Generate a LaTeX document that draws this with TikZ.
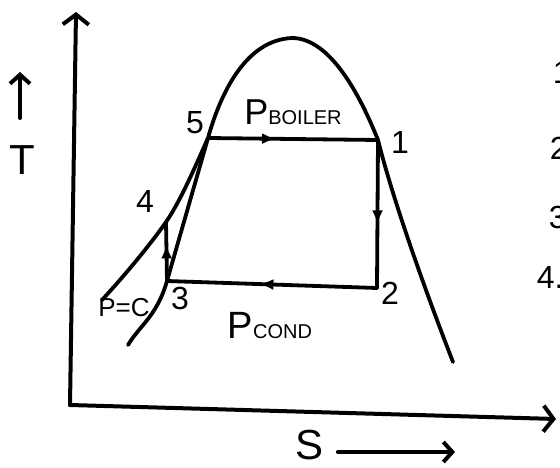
\documentclass[tikz,border=0pt]{standalone}
\usepackage{fontspec}
\setsansfont{Liberation Sans}
\usetikzlibrary{arrows.meta, decorations.markings}
\tikzset{
  every picture/.style={font=\sffamily, line width=3.8pt, line cap=round, line join=round},
  curve/.style={draw=black, line width=3.8pt},
  axis/.style={-{Straight Barb[length=10pt, width=26pt]}, line width=4pt},
  sarrow/.style={-{Straight Barb[length=9pt, width=20pt]}, line width=4pt},
  midarrow/.style={postaction={decorate}, decoration={markings, mark=at position #1 with {\arrow{Latex[length=14pt, width=11pt]}}}},
  lbl/.style={font=\sffamily\fontsize{32}{32}\selectfont, inner sep=0pt},
  biglbl/.style={font=\sffamily\fontsize{42}{42}\selectfont, inner sep=0pt},
}
\newcommand{\psub}[1]{{\fontsize{20}{20}\selectfont #1}}

\begin{document}
\begin{tikzpicture}[x=1pt, y=-1pt]
  \useasboundingbox (0,0) rectangle (560,468);
  % state points
  \coordinate (o) at (70,405);
  \coordinate (p1) at (378,140);
  \coordinate (p2) at (377,288);
  \coordinate (p3) at (167,281);
  \coordinate (p4) at (166,222);
  \coordinate (p5) at (208,138);
  \coordinate (top) at (292,38);
  \coordinate (lo) at (128,345);
  \coordinate (ro) at (453,362);
  \coordinate (pc) at (102,300);
  \coordinate (tT) at (76,12);
  \coordinate (sS) at (556,419);
  % axes
  \draw[axis] (o) -- (tT);
  \draw[axis] (o) -- (sS);
  \coordinate (ub) at (20,118);
  \coordinate (ut) at (20,72);
  \draw[sarrow] (ub) -- (ut);
  \node[biglbl] (tl) at (22,160) {T};
  \node[biglbl] (sl) at (310,445) {S};
  \coordinate (se) at (455,452);
  \draw[sarrow] ([xshift=12pt]sl.east |- se) -- (se);
  % saturation dome
  \draw[curve] (lo) .. controls (140,325) and (157,316) .. (p3) -- (p5)
    .. controls (220,95) and (245,40) .. (top)
    .. controls (330,38) and (360,95) .. (p1)
    .. controls (393,200) and (425,290) .. (ro);
  % constant pressure line
  \draw[curve] (pc) .. controls (125,275) and (150,245) .. (p4)
    .. controls (180,202) and (196,165) .. (p5);
  % cycle
  \draw[curve, midarrow=0.4] (p5) -- (p1);
  \draw[curve, midarrow=0.57] (p1) -- (p2);
  \draw[curve, midarrow=0.56] (p2) -- (p3);
  \draw[curve, midarrow=0.62] (p3) -- (p4);
  % labels
  \node[lbl] (n5) at (195,123) {5};
  \node[lbl] (n1) at (400,142) {1};
  \node[lbl] (n4) at (145,201) {4};
  \node[lbl] (n3) at (180,298) {3};
  \node[lbl] (n2) at (390,293) {2};
  \node[lbl, font=\sffamily\fontsize{26}{26}\selectfont] (npc) at (124,308) {P=C};
  \node[lbl, font=\sffamily\fontsize{36}{36}\selectfont] (nb) at (293,112) {P\psub{BOILER}};
  \node[lbl, font=\sffamily\fontsize{38}{38}\selectfont] (nc) at (270,326) {P\psub{COND}};
  % cut-off list at the right edge
  \node[lbl, anchor=west] (r1) at (551,72) {1};
  \node[lbl, anchor=west] (r2) at (548,148) {2};
  \node[lbl, anchor=west] (r3) at (547,217) {3};
  \node[lbl, anchor=west] (r4) at (535,277) {4.};
\end{tikzpicture}
\end{document}
